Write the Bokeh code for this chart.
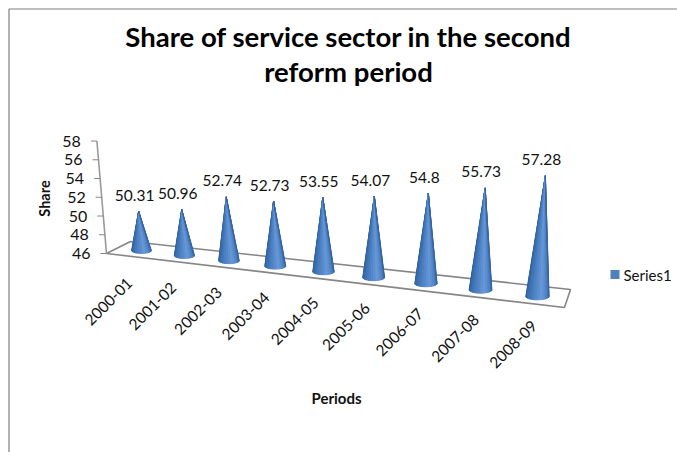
import math
from bokeh.core.properties import value
from bokeh.embed import file_html
from bokeh.models import ColumnDataSource, Range1d
from bokeh.plotting import figure
from bokeh.resources import INLINE

# Chart content
title_lines = ["Share of service sector in the second", "reform period"]
periods = ["2000-01", "2001-02", "2002-03", "2003-04", "2004-05",
           "2005-06", "2006-07", "2007-08", "2008-09"]
shares = [50.31, 50.96, 52.74, 52.73, 53.55, 54.07, 54.8, 55.73, 57.28]
y_ticks = [46, 48, 50, 52, 54, 56, 58]
x_title = "Periods"
y_title = "Share"
series_name = "Series1"

W, H = 677, 452
FONT = value("Lato")
INK = "#111111"
RULE = "#868686"
BASE_VALUE = 46

# Perspective view of the chart box, in page pixels
PERSP = -0.01869


def ground(i):
    """Page position of category slot i on the floor."""
    d = 1 + PERSP * i
    x = (141 + 39.46 * i) / d
    return x, 250 + (x - 141) * 0.116, 1 / d


def lift(x, y, scale, v):
    """Raise a floor point to value v, converging on the vanishing line."""
    h = (v - BASE_VALUE) * 9.1 * scale
    return x + (x - 350) * 0.00035 * h, y - h


p = figure(width=W, height=H, x_range=Range1d(0, W), y_range=Range1d(H, 0),
           output_backend="svg", toolbar_location=None, min_border=0)
p.axis.visible = False
p.grid.visible = False
p.outline_line_color = None
p.background_fill_color = "white"
p.border_fill_color = "white"

# Chart frame
p.line([8.5, 8.5, W], [H, 8.5, 8.5], line_color="#7f7f7f", line_width=1.2)

# Floor of the box
floor_x = [106, 130, 570, 564]
floor_y = [253, 241, 289, 307]
p.patch(floor_x, floor_y, fill_color="white", line_color=RULE, line_width=1.6)

# Value axis with its ticks and labels
ax0 = lift(106, 253, 1, BASE_VALUE)
ax1 = lift(106, 253, 1.03, y_ticks[-1])
p.line([ax0[0], ax1[0]], [ax0[1], ax1[1]], line_color="#9a9a9a", line_width=1.6)
tx, ty = [], []
for t in y_ticks:
    f = (t - y_ticks[0]) / (y_ticks[-1] - y_ticks[0])
    tx.append(ax0[0] + (ax1[0] - ax0[0]) * f)
    ty.append(ax0[1] + (ax1[1] - ax0[1]) * f)
p.segment([x - 6 for x in tx], ty, tx, ty, line_color=RULE, line_width=1)
p.text([x - 16 for x in tx], ty, text=[str(t) for t in y_ticks], text_align="right",
       text_baseline="middle", text_font=FONT, text_font_size="16px", text_color=INK)


def shade(u):
    """Horizontal shading across a cone; u runs 0 (left) to 1 (right)."""
    stops = [(0.0, (44, 88, 144)), (0.3, (64, 118, 184)), (0.62, (104, 152, 216)),
             (0.85, (70, 122, 188)), (1.0, (48, 94, 152))]
    for (a, ca), (b, cb) in zip(stops, stops[1:]):
        if u <= b:
            f = (u - a) / (b - a)
            return "#%02x%02x%02x" % tuple(round(m + (n - m) * f) for m, n in zip(ca, cb))
    return "#%02x%02x%02x" % stops[-1][1]


# Cones, built from narrow wedges so the surface reads as rounded
STRIPS = 14
xs, ys, colors = [], [], []
for i, v in enumerate(shares):
    bx, by, s = ground(i)
    ax, ay = lift(bx, by, s, v)
    rx = 9.9 * s
    ry = 2.9 * s
    for k in range(STRIPS):
        t0 = math.pi * (1 - k / STRIPS)
        t1 = math.pi * (1 - (k + 1) / STRIPS)
        xs.append([ax, bx + rx * math.cos(t0), bx + rx * math.cos(t1)])
        ys.append([ay, by + ry * math.sin(t0), by + ry * math.sin(t1)])
        colors.append(shade((k + 0.5) / STRIPS))
cones = ColumnDataSource(dict(xs=xs, ys=ys, color=colors))
p.patches("xs", "ys", source=cones, fill_color="color", line_color="color",
          line_width=1, line_join="round")

# Value labels above each apex, category labels below the floor
lx, ly, cx, cy = [], [], [], []
for i, v in enumerate(shares):
    bx, by, s = ground(i)
    ax, ay = lift(bx, by, s, v)
    lx.append(ax - 4)
    ly.append(ay - 16)
    cx.append(bx - 12 + 1.1 * i)
    cy.append(by + 30 - 0.4 * i)
p.text(lx, ly, text=[f"{v:g}" for v in shares], text_align="center", text_baseline="middle",
       text_font=FONT, text_font_size="15.5px", text_color=INK)
p.text(cx, cy, text=periods, angle=math.radians(45), text_align="right", text_baseline="middle",
       text_font=FONT, text_font_size="15.5px", text_color=INK)

# Title and axis titles
p.text([348, 348], [36, 71], text=title_lines, text_align="center", text_baseline="middle",
       text_font=FONT, text_font_style="bold", text_font_size="27.5px", text_color="#000000")
p.text([336], [397], text=[x_title], text_align="center", text_baseline="middle",
       text_font=FONT, text_font_style="bold", text_font_size="15px", text_color=INK)
p.text([44], [198], text=[y_title], angle=math.pi / 2, text_align="center", text_baseline="middle",
       text_font=FONT, text_font_style="bold", text_font_size="14.5px", text_color=INK)

# Legend
p.rect([614.5], [274], width=9, height=9, fill_color="#4f81bd", line_color=None)
p.text([623], [274], text=[series_name], text_align="left", text_baseline="middle",
       text_font=FONT, text_font_size="15px", text_color=INK)

open("out.html", "w").write(file_html(p, INLINE))
